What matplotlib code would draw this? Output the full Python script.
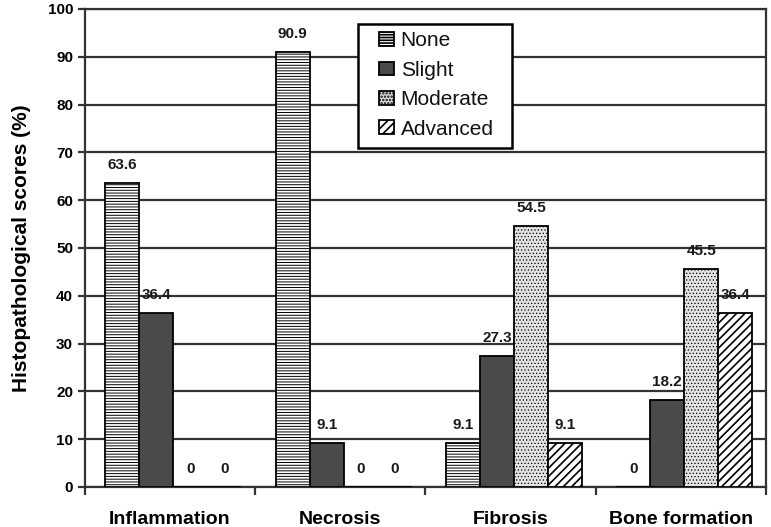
import matplotlib.pyplot as plt
from matplotlib.patches import Rectangle
import numpy as np

# data
categories = ['Inflammation', 'Necrosis', 'Fibrosis', 'Bone formation']
none_vals = [63.6, 90.9, 9.1, 0]
slight_vals = [36.4, 9.1, 27.3, 18.2]
moderate_vals = [0, 0, 54.5, 45.5]
advanced_vals = [0, 0, 9.1, 36.4]
series_names = ['None', 'Slight', 'Moderate', 'Advanced']

plt.rcParams['font.family'] = ['Liberation Sans', 'DejaVu Sans']

fig = plt.figure(figsize=(7.71, 5.27), dpi=100)
ax = fig.add_axes([0.110, 0.076, 0.8835, 0.907])

x = np.arange(len(categories))
w = 0.2
styles = [
    dict(facecolor='white', hatch='------'),
    dict(facecolor='#4a4a4a', hatch=None),
    dict(facecolor='#e2e2e2', hatch='.....'),
    dict(facecolor='white', hatch='////'),
]
hatch_lw = [0.7, 1.0, 0.5, 1.2]
all_vals = [none_vals, slight_vals, moderate_vals, advanced_vals]

for i, (vals, name, st) in enumerate(zip(all_vals, series_names, styles)):
    plt.rcParams['hatch.linewidth'] = hatch_lw[i]
    pos = x + (i - 1.5) * w + 0.02
    ax.bar(pos, vals, w, label=name, edgecolor='black', linewidth=1.3,
           zorder=3, **st)
    for p, v in zip(pos, vals):
        txt = '0' if v == 0 else f'{v:.1f}'
        ax.annotate(txt, (p, v), xytext=(0, 8), textcoords='offset points',
                    ha='center', va='bottom', fontsize=11, fontweight='bold',
                    color='#1a1a1a', zorder=4)

ax.set_ylim(0, 100)
ax.set_xlim(-0.5, 3.5)
ax.set_yticks(np.arange(0, 101, 10))
ax.yaxis.grid(True, color='#333333', linewidth=1.6, zorder=0)
ax.set_axisbelow(True)

# category boundary ticks, labels at centres
ax.set_xticks([-0.5, 0.5, 1.5, 2.5, 3.5])
ax.set_xticklabels([])
ax.set_xticks(x, minor=True)
ax.set_xticklabels(categories, minor=True, fontsize=14, fontweight='bold')
ax.tick_params(axis='x', which='major', direction='out', length=6, width=1.6, color='#333333')
ax.tick_params(axis='x', which='minor', length=0, pad=17)
ax.tick_params(axis='y', direction='out', length=5, width=1.6, color='#333333',
               labelsize=11)
for lab in ax.get_yticklabels():
    lab.set_fontweight('bold')

for s in ax.spines.values():
    s.set_color('#333333')
    s.set_linewidth(1.6)

ax.set_ylabel('Histopathological scores (%)', fontsize=15, fontweight='bold', labelpad=12)

# legend box drawn separately so its padding matches
box = Rectangle((0.401, 0.709), 0.226, 0.26, transform=ax.transAxes,
                facecolor='white', edgecolor='black', linewidth=1.8, zorder=5)
ax.add_patch(box)
leg = ax.legend(loc='upper left', bbox_to_anchor=(0.4317, 0.953), fontsize=15,
                frameon=False, borderpad=0, labelspacing=0.5,
                handlelength=0.75, handleheight=0.65, handletextpad=0.3,
                borderaxespad=0)
leg.set_zorder(6)
for t in leg.get_texts():
    t.set_color('#111111')

fig.savefig('out.png', dpi=100)
